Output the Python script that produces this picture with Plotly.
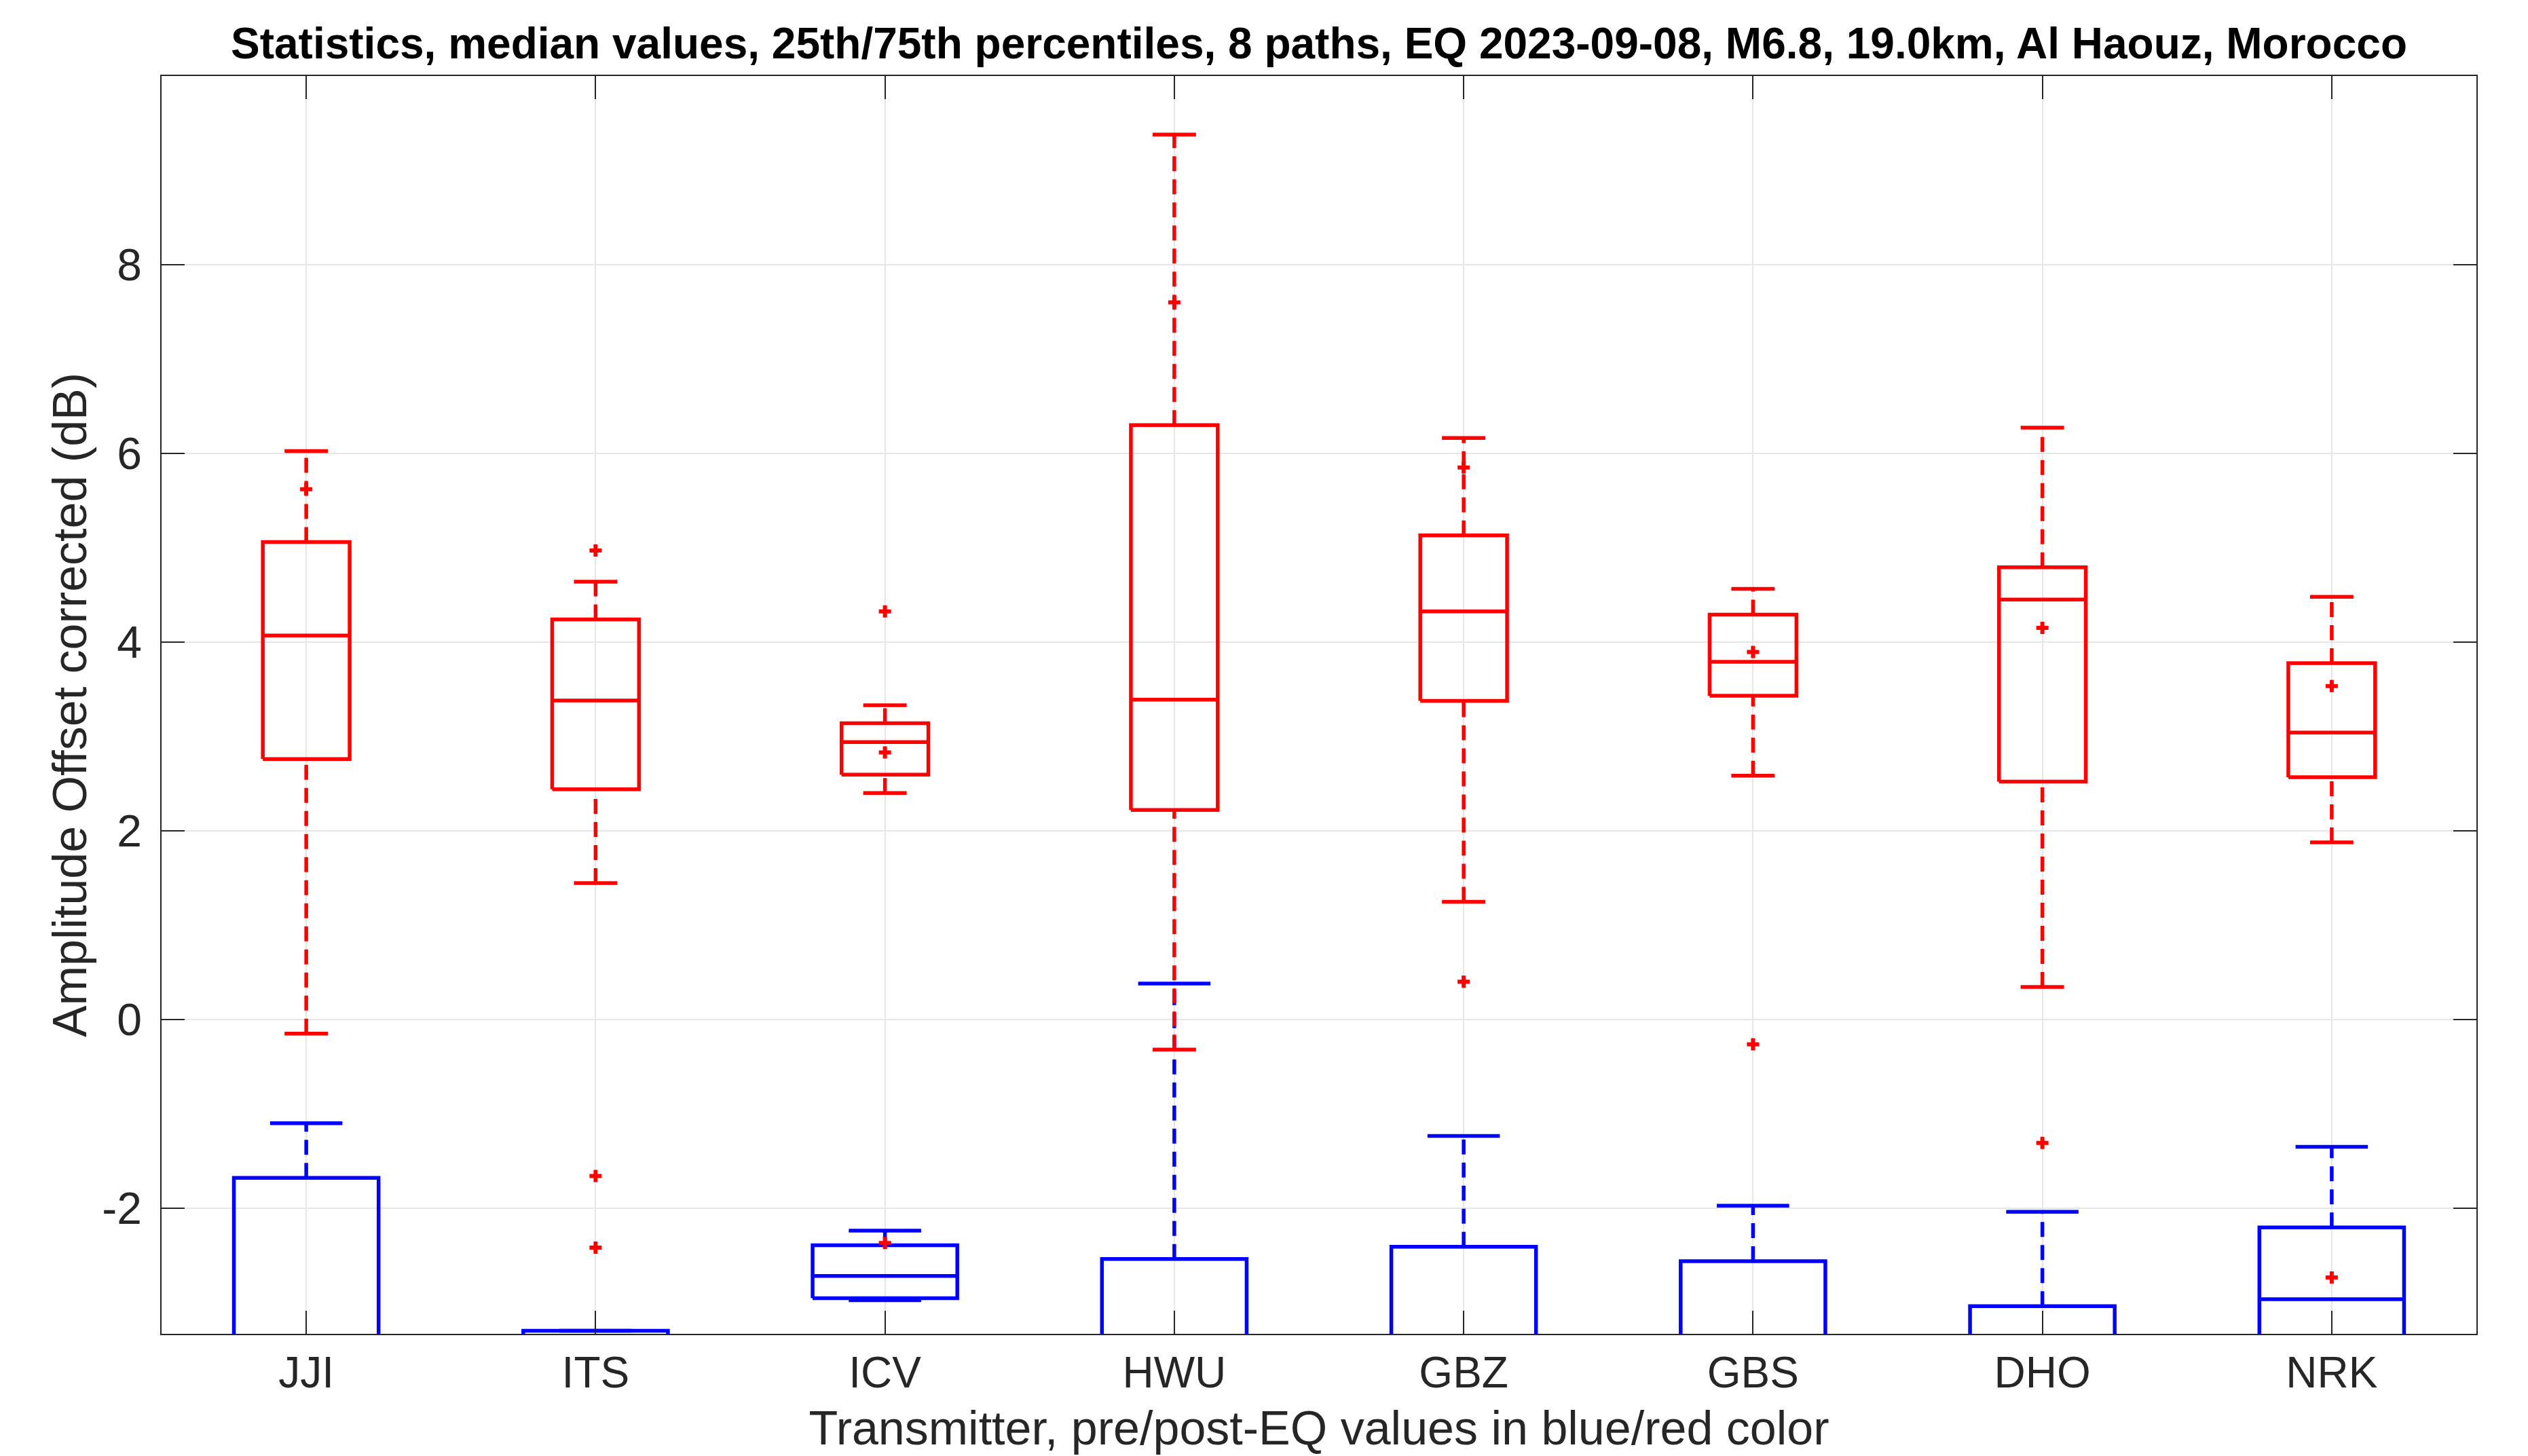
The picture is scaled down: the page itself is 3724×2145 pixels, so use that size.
import plotly.graph_objects as go

stations = ['JJI', 'ITS', 'ICV', 'HWU', 'GBZ', 'GBS', 'DHO', 'NRK']

# pre-EQ (blue) statistics; values below -3.33 are hidden by the axis limit
pre_upper = [-1.10, -3.30, -2.24, 0.38, -1.235, -1.975, -2.04, -1.35]
pre_q3 = [-1.68, -3.30, -2.394, -2.54, -2.41, -2.563, -3.04, -2.205]
pre_median = [-3.9, -3.8, -2.72, -3.7, -3.8, -3.7, -3.6, -2.966]
pre_q1 = [-5.2, -4.3, -2.956, -5.0, -5.1, -4.6, -4.3, -3.8]
pre_lower = [-7.5, -5.0, -2.977, -8.0, -7.5, -6.0, -5.5, -5.0]

# post-EQ (red) statistics
post_upper = [6.025, 4.64, 3.33, 9.38, 6.163, 4.564, 6.273, 4.48]
post_q3 = [5.06, 4.24, 3.14, 6.30, 5.13, 4.29, 4.793, 3.776]
post_median = [4.07, 3.38, 2.94, 3.39, 4.325, 3.79, 4.45, 3.04]
post_q1 = [2.76, 2.44, 2.594, 2.22, 3.377, 3.43, 2.52, 2.568]
post_lower = [-0.15, 1.445, 2.40, -0.32, 1.246, 2.584, 0.344, 1.876]
post_outliers = [
    [5.62],
    [4.97, -1.66, -2.42],
    [4.325, 2.83, -2.37],
    [7.60],
    [5.85, 0.40],
    [3.895, -0.265],
    [4.15, -1.31],
    [3.533, -2.736],
]

y_ticks = [-2, 0, 2, 4, 6, 8]

TXT = '#262626'
FONT = 'Liberation Sans, Arial, Helvetica, sans-serif'
LW = 5.5


def box_traces(lower, q1, med, q3, upper, half, color, outliers=None):
    pos = list(range(1, len(stations) + 1))
    bx, by, mx, my, wx, wy, cx, cy = [], [], [], [], [], [], [], []
    for i, p in enumerate(pos):
        bx += [p - half, p + half, p + half, p - half, p - half, None]
        by += [q1[i], q1[i], q3[i], q3[i], q1[i], None]
        mx += [p - half, p + half, None]
        my += [med[i], med[i], None]
        wx += [p, p, None, p, p, None]
        wy += [q3[i], upper[i], None, lower[i], q1[i], None]
        c = half / 2
        cx += [p - c, p + c, None, p - c, p + c, None]
        cy += [upper[i], upper[i], None, lower[i], lower[i], None]
    tr = [
        go.Scatter(x=wx, y=wy, mode='lines',
                   line=dict(color=color, width=LW, dash='22px,12px')),
        go.Scatter(x=cx, y=cy, mode='lines', line=dict(color=color, width=LW)),
        go.Scatter(x=bx, y=by, mode='lines', line=dict(color=color, width=LW)),
        go.Scatter(x=mx, y=my, mode='lines', line=dict(color=color, width=LW)),
    ]
    if outliers:
        ox, oy = [], []
        for i, vals in enumerate(outliers):
            ox += [pos[i]] * len(vals)
            oy += vals
        tr.append(go.Scatter(x=ox, y=oy, mode='markers',
                             marker=dict(symbol='cross', size=15, color=color,
                                         line=dict(width=0))))
    return tr


fig = go.Figure()
for t in box_traces(pre_lower, pre_q1, pre_median, pre_q3, pre_upper, 0.25, '#0000ff'):
    fig.add_trace(t)
for t in box_traces(post_lower, post_q1, post_median, post_q3, post_upper, 0.15,
                    '#ff0000', post_outliers):
    fig.add_trace(t)

fig.update_layout(
    width=3724, height=2145,
    margin=dict(l=230, r=84, t=104, b=188),
    paper_bgcolor='white', plot_bgcolor='white',
    showlegend=False,
    font=dict(family=FONT, color=TXT, size=60),
    title=dict(
        text='Statistics, median values, 25th/75th percentiles, 8 paths, EQ 2023-09-08, M6.8, 19.0km, Al Haouz, Morocco',
        x=0.5, xref='paper', xanchor='center',
        y=1 - 56 / 2145, yref='container', yanchor='middle',
        font=dict(family=FONT, size=64, color='black', weight='bold'),
    ),
    xaxis=dict(
        range=[0.5, 8.5],
        tickvals=list(range(1, len(stations) + 1)), ticktext=stations,
        ticks='inside', ticklen=34, tickwidth=1.5, tickcolor=TXT,
        showline=True, linecolor=TXT, linewidth=1.5, mirror='ticks',
        showgrid=True, gridcolor='#e6e6e6', gridwidth=1.5, zeroline=False,
        tickfont=dict(size=64, color=TXT), ticklabelstandoff=0,
        title=dict(text='Transmitter, pre/post-EQ values in blue/red color',
                   font=dict(size=70, color=TXT), standoff=22),
    ),
    yaxis=dict(
        range=[-3.333, 10],
        tickvals=y_ticks, ticktext=[str(v) for v in y_ticks],
        ticks='inside', ticklen=34, tickwidth=1.5, tickcolor=TXT,
        showline=True, linecolor=TXT, linewidth=1.5, mirror='ticks',
        showgrid=True, gridcolor='#e6e6e6', gridwidth=1.5, zeroline=False,
        tickfont=dict(size=66, color=TXT), ticklabelstandoff=14,
        title=dict(text='Amplitude Offset corrected (dB)',
                   font=dict(size=70, color=TXT), standoff=0),
    ),
)

fig.write_html('out.html')
